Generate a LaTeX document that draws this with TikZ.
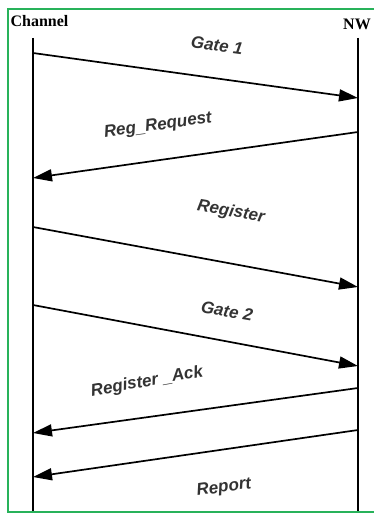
\documentclass[tikz,border=0pt]{standalone}
\usepackage{fontspec}
\usetikzlibrary{arrows.meta, positioning, calc}
\newfontfamily\msgfont{Liberation Sans}
\newfontfamily\endfont{Liberation Serif}
\definecolor{frame}{RGB}{40,178,90}

\begin{document}
\begin{tikzpicture}[x=1pt, y=-1pt, >={Triangle[length=19pt,width=12pt]},
    msg/.style={->, line width=1.7pt},
    life/.style={line width=2.8pt},
    lbl/.style={text=black!80, inner sep=0pt, font=\msgfont\bfseries\itshape\fontsize{17}{19}\selectfont},
    party/.style={inner sep=0pt, font=\endfont\bfseries\fontsize{16}{18}\selectfont}]
    \useasboundingbox (0,0) rectangle (374,513);
    \draw[frame, line width=1.5pt] (8,9) rectangle (380,512);

    % Parties and lifelines
    \node[party] (ch) at (39.5,21.5) {Channel};
    \node[party] (nw) at (357,24) {NW};
    \coordinate (chtop) at (33,38);
    \coordinate (chbot) at (33,511);
    \coordinate (nwtop) at (358,38);
    \coordinate (nwbot) at (358,511);
    \draw[life] (chtop) -- (chbot);
    \draw[life] (nwtop) -- (nwbot);

    % Message ends
    \coordinate (c1) at (33,53);   \coordinate (n1) at (358,98);
    \coordinate (n2) at (358,132); \coordinate (c2) at (33,178);
    \coordinate (c3) at (33,227);  \coordinate (n3) at (358,287);
    \coordinate (c4) at (33,305);  \coordinate (n4) at (358,366);
    \coordinate (n5) at (358,388); \coordinate (c5) at (33,433);
    \coordinate (n6) at (358,430); \coordinate (c6) at (33,477);

    % Messages
    \draw[msg] (c1) -- (n1);
    \draw[msg] (n2) -- (c2);
    \draw[msg] (c3) -- (n3);
    \draw[msg] (c4) -- (n4);
    \draw[msg] (n5) -- (c5);
    \draw[msg] (n6) -- (c6);

    % Labels
    \node[lbl, rotate=-8] (gate1) at (217,45) {Gate 1};
    \node[lbl, rotate=8] (regreq) at (158,126) {Reg\_Request};
    \node[lbl, rotate=-10] (reg) at (231,212) {Register};
    \node[lbl, rotate=-10] (gate2) at (227,311) {Gate 2};
    \node[lbl, rotate=10] (regack) at (147,382) {Register \_Ack};
    \node[lbl, rotate=8] (report) at (224,488) {Report};
\end{tikzpicture}
\end{document}
